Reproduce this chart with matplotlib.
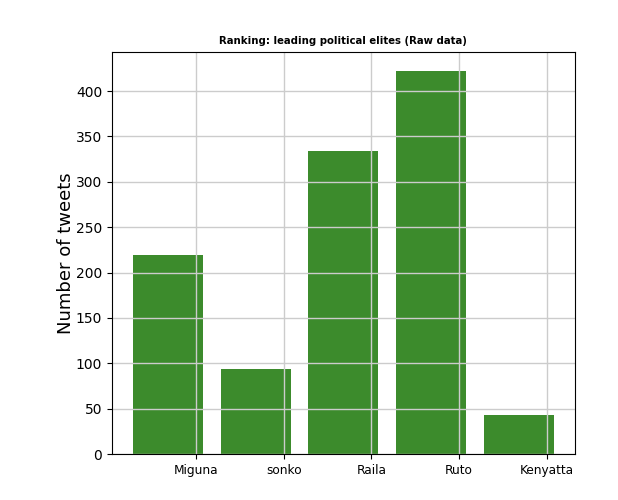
import matplotlib.pyplot as plt
import numpy as np

# Tweet counts per political figure
names = ["Miguna", "sonko", "Raila", "Ruto", "Kenyatta"]
tweets = [219, 94, 334, 422, 43]

fig = plt.figure(figsize=(6.18, 5), dpi=100)
ax = fig.add_axes([0.181, 0.092, 0.749, 0.804])

x = np.arange(len(names))
ax.bar(x, tweets, width=0.8, color="#3c8b2c")

# tick labels sit offset to the right of each bar, as in the original
ax.set_xticks(x + 0.32)
ax.set_xticklabels(names)
ax.tick_params(axis="x", labelsize=8.7)

ax.set_ylabel("Number of tweets", fontsize=13, labelpad=0.5)
ax.set_title("Ranking: leading political elites (Raw data)", fontsize=7.3, fontweight="bold")
ax.grid(True, color="#cccccc", linewidth=1)

plt.savefig("out.png")
